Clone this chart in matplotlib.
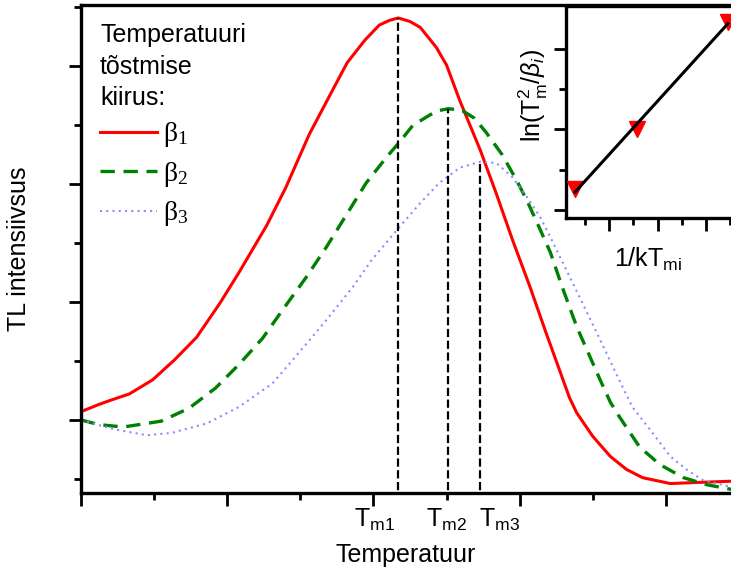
import matplotlib
matplotlib.use("Agg")
import matplotlib.pyplot as plt
import numpy as np

plt.rcParams['font.family'] = ['Liberation Sans', 'DejaVu Sans']
plt.rcParams['mathtext.fontset'] = 'custom'
plt.rcParams['mathtext.rm'] = 'Liberation Sans'
plt.rcParams['mathtext.it'] = 'Liberation Sans:italic'
plt.rcParams['font.size'] = 18

# TL glow curves for three heating rates (arbitrary units)
temp_b1 = [0.0, 0.12, 0.21, 0.33, 0.49, 0.64, 0.79, 0.95, 1.08, 1.27, 1.40, 1.56, 1.70,
           1.82, 1.94, 2.04, 2.11, 2.17, 2.25, 2.32, 2.43, 2.50, 2.59, 2.73, 2.84,
           2.95, 3.07, 3.18, 3.34, 3.39, 3.50, 3.62, 3.73, 3.84, 4.03, 4.23, 4.45]
tl_b1 = [0.07, 0.13, 0.17, 0.22, 0.34, 0.51, 0.70, 0.99, 1.25, 1.65, 1.97, 2.42, 2.75,
         3.03, 3.22, 3.35, 3.39, 3.41, 3.38, 3.33, 3.16, 3.01, 2.71, 2.29, 1.92,
         1.53, 1.13, 0.74, 0.19, 0.06, -0.14, -0.31, -0.42, -0.49, -0.54, -0.53, -0.52]

temp_b2 = [0.0, 0.12, 0.29, 0.45, 0.55, 0.74, 0.92, 1.08, 1.24, 1.40, 1.54, 1.68,
           1.82, 1.95, 2.09, 2.18, 2.27, 2.43, 2.51, 2.60, 2.69, 2.77, 2.88, 2.98,
           3.05, 3.12, 3.21, 3.29, 3.39, 3.55, 3.62, 3.68, 3.82, 3.96, 4.12, 4.28, 4.45]
tl_b2 = [0.0, -0.04, -0.06, -0.03, -0.01, 0.10, 0.27, 0.47, 0.69, 0.97, 1.21, 1.47,
         1.75, 2.01, 2.23, 2.36, 2.50, 2.62, 2.64, 2.63, 2.56, 2.44, 2.25, 2.03,
         1.86, 1.67, 1.42, 1.13, 0.79, 0.34, 0.15, 0.03, -0.23, -0.38, -0.49, -0.55, -0.59]

temp_b3 = [0.0, 0.08, 0.23, 0.45, 0.62, 0.86, 1.08, 1.31, 1.49, 1.68, 1.86, 1.99,
           2.18, 2.32, 2.45, 2.59, 2.73, 2.84, 2.95, 3.05, 3.14, 3.23, 3.32, 3.41,
           3.55, 3.68, 3.77, 3.89, 4.03, 4.14, 4.25, 4.45]
tl_b3 = [0.0, -0.03, -0.08, -0.13, -0.11, -0.03, 0.11, 0.31, 0.57, 0.85, 1.13, 1.36,
         1.64, 1.84, 2.01, 2.14, 2.19, 2.18, 2.06, 1.89, 1.72, 1.50, 1.27, 1.04,
         0.68, 0.34, 0.11, -0.08, -0.31, -0.42, -0.51, -0.57]

tm_labels = ['T$\\mathregular{_{m1}}$', 'T$\\mathregular{_{m2}}$', 'T$\\mathregular{_{m3}}$']
tm_label_x = [2.01, 2.50, 2.86]

# inset: ln(Tm^2/beta) against 1/kTm
inv_kt = [0.30, 1.58, 3.45]
ln_tb = [1.26, 2.01, 3.34]

fig = plt.figure(figsize=(7.31, 5.69), dpi=100)
ax = fig.add_axes([0.1108, 0.1336, 0.8892, 0.8576])

curves = [(temp_b1, tl_b1), (temp_b2, tl_b2), (temp_b3, tl_b3)]
l1, = ax.plot(temp_b1, tl_b1, color='#ff0000', lw=2.2)
l2, = ax.plot(temp_b2, tl_b2, color='#008000', lw=2.4, dashes=(4.3, 2.6))
l3, = ax.plot(temp_b3, tl_b3, color='#8c8cff', lw=1.5, dashes=(1, 2))

# vertical markers at each peak maximum
for t, y in curves:
    i = int(np.argmax(y))
    ax.plot([t[i], t[i]], [-0.7, y[i]], color='black', lw=1.6, ls='--')

for x, s in zip(tm_label_x, tm_labels):
    ax.text(x, -0.055, s, transform=ax.get_xaxis_transform(), ha='center', va='center')

ax.set_xlim(0, 4.445)
ax.set_ylim(-0.62, 3.52)
ax.set_xticks([0, 1, 2, 3, 4])
ax.set_xticks([0.5, 1.5, 2.5, 3.5], minor=True)
ax.set_yticks([0, 1, 2, 3])
ax.set_yticks([-0.5, 0.5, 1.5, 2.5, 3.5], minor=True)
ax.tick_params(which='both', labelbottom=False, labelleft=False, width=2, direction='out')
ax.tick_params(which='major', length=9)
ax.tick_params(which='minor', length=5)
for side in ['left', 'bottom', 'top']:
    ax.spines[side].set_linewidth(2.4)
ax.spines['right'].set_visible(False)

ax.set_xlabel('Temperatuur', labelpad=27)
ax.set_ylabel('TL intensiivsus', labelpad=27)

leg = ax.legend([l1, l2, l3],
                ['β$\\mathregular{_1}$', 'β$\\mathregular{_2}$', 'β$\\mathregular{_3}$'],
                title='Temperatuuri\ntõstmise\nkiirus:', alignment='left',
                prop={'family': 'Liberation Serif', 'size': 20},
                loc='upper left', bbox_to_anchor=(0.008, 0.991), frameon=False,
                borderpad=0, handlelength=2.05, handletextpad=0.22, labelspacing=0.38)
leg.get_title().set_fontsize(18)
leg.get_title().set_linespacing(1.38)

ax_in = fig.add_axes([0.7743, 0.6169, 0.2257, 0.3725])
ax_in.plot(inv_kt, ln_tb, 'v', color='#ff0000', ms=11, clip_on=False, zorder=3)
k, b = np.polyfit(inv_kt, ln_tb, 1)
fit_x = np.array([inv_kt[0], inv_kt[-1]])
ax_in.plot(fit_x, k * fit_x + b, color='black', lw=2.2, zorder=4)
ax_in.set_xlim(0.113, 3.515)
ax_in.set_ylim(0.90, 3.534)
ax_in.set_xticks([1, 2, 3])
ax_in.set_xticks([0.5, 1.5, 2.5, 3.5], minor=True)
ax_in.set_yticks([1, 2, 3])
ax_in.set_yticks([1.5, 2.5], minor=True)
ax_in.tick_params(which='both', labelbottom=False, labelleft=False, width=2, direction='out')
ax_in.tick_params(which='major', length=9)
ax_in.tick_params(which='minor', length=5)
for side in ['left', 'bottom', 'top']:
    ax_in.spines[side].set_linewidth(2.4)
ax_in.spines['right'].set_visible(False)
ax_in.set_xlabel('1/kT$\\mathregular{_{mi}}$', labelpad=11)
ax_in.set_ylabel('ln(T$\\mathregular{_m^2}$/$\\mathit{β_i}$)', labelpad=9)
ax_in.yaxis.set_label_coords(-0.1, 0.58)

fig.savefig('out.png', dpi=100)
